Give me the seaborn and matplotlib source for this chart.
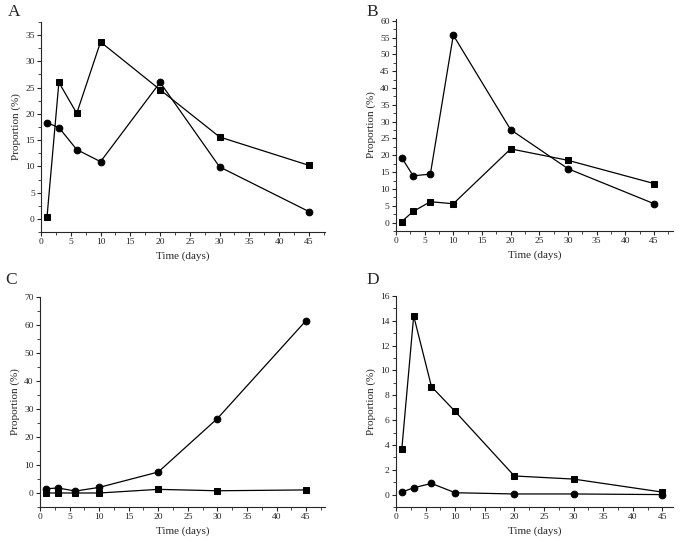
import numpy as np
import pandas as pd
import matplotlib
matplotlib.use("Agg")
import matplotlib.pyplot as plt
from matplotlib.ticker import MultipleLocator
import seaborn as sns

days = [1, 3, 6, 10, 20, 30, 45]

a_square = [0.3, 26.0, 20.1, 33.7, 24.6, 15.6, 10.2]
a_circle = [18.3, 17.4, 13.2, 10.9, 26.0, 9.9, 1.4]
b_circle = [19.3, 13.9, 14.4, 55.7, 27.6, 16.0, 5.6]
b_square = [0.3, 3.3, 6.2, 5.6, 21.9, 18.5, 11.6]
c_circle = [1.5, 1.8, 0.7, 2.0, 7.5, 26.6, 61.6]
c_square = [0.0, 0.0, 0.0, 0.0, 1.3, 0.8, 1.1]
d_square = [3.7, 14.4, 8.7, 6.7, 1.5, 1.25, 0.2]
d_circle = [0.2, 0.55, 0.9, 0.15, 0.05, 0.05, 0.0]

panel_labels = ["A", "B", "C", "D"]
x_label = "Time (days)"
y_label = "Proportion (%)"

sns.set_style("ticks")
plt.rcParams['font.family'] = ['Liberation Serif', 'DejaVu Serif']
plt.rcParams['xtick.direction'] = 'out'
plt.rcParams['ytick.direction'] = 'out'

fig = plt.figure(figsize=(6.85, 5.43), dpi=100)

positions = [
    [0.0599, 0.5727, 0.4145, 0.3868],
    [0.578, 0.5746, 0.4045, 0.3904],
    [0.0584, 0.0663, 0.4161, 0.3867],
    [0.578, 0.0663, 0.4045, 0.3885],
]
series = [
    (a_square, a_circle),
    (b_square, b_circle),
    (c_square, c_circle),
    (d_square, d_circle),
]
ylims = [(-2.5, 37.5), (-2.5, 60.5), (-5, 70), (-1, 16)]
xlims = [(0, 47.7), (0, 48.3), (0, 48.2), (0, 46.8)]
ymaj = [5, 5, 10, 2]
ymin_ = [2.5, 2.5, 5, 1]
letter_pos = [(0.011, 0.977), (0.535, 0.977), (0.008, 0.484), (0.535, 0.484)]

for i in range(4):
    ax = fig.add_axes(positions[i])
    sq, ci = series[i]
    df_sq = pd.DataFrame({"day": days, "val": sq})
    df_ci = pd.DataFrame({"day": days, "val": ci})
    sns.lineplot(data=df_sq, x="day", y="val", ax=ax, color="black",
                 marker="s", markersize=4.2, linewidth=0.9, markeredgecolor="black")
    sns.lineplot(data=df_ci, x="day", y="val", ax=ax, color="black",
                 marker="o", markersize=4.8, linewidth=0.9, markeredgecolor="black")
    ax.set_xlim(*xlims[i])
    ax.set_ylim(*ylims[i])
    ax.xaxis.set_major_locator(MultipleLocator(5))
    ax.xaxis.set_minor_locator(MultipleLocator(2.5))
    ax.yaxis.set_major_locator(MultipleLocator(ymaj[i]))
    ax.yaxis.set_minor_locator(MultipleLocator(ymin_[i]))
    ax.set_yticks([t for t in ax.get_yticks() if ylims[i][0] <= t <= ylims[i][1]])
    ax.tick_params(which='major', length=3, width=0.8, labelsize=6.8, pad=1.5)
    ax.tick_params(which='minor', length=2, width=0.6)
    for s in ["top", "right"]:
        ax.spines[s].set_visible(False)
    for s in ["left", "bottom"]:
        ax.spines[s].set_linewidth(0.8)
    ax.set_xlabel(x_label, fontsize=8, labelpad=4)
    ax.set_ylabel(y_label, fontsize=8, labelpad=3)
    fig.text(letter_pos[i][0], letter_pos[i][1], panel_labels[i], fontsize=12.5,
             ha="left", va="center")

fig.savefig("out.png", dpi=100)
